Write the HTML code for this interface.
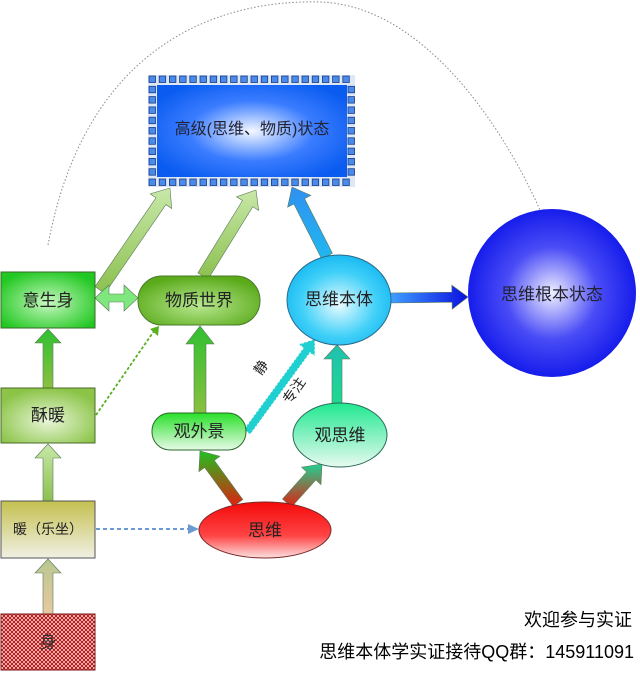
<!DOCTYPE html>
<html><head><meta charset="utf-8"><style>
html,body{margin:0;padding:0;background:#fff;}
svg{display:block;font-family:"Liberation Sans","Noto Sans CJK SC",sans-serif;}
</style></head><body>
<svg id="s" width="640" height="674" viewBox="0 0 640 674" xmlns="http://www.w3.org/2000/svg">
<defs>
<radialGradient id="gBlue" cx="50%" cy="50%" r="60%"><stop offset="0" stop-color="#f4f8ff"/><stop offset="0.55" stop-color="#3a7cff"/><stop offset="1" stop-color="#0a5cf0"/></radialGradient>
<radialGradient id="gBig" cx="50%" cy="50%" r="55%"><stop offset="0" stop-color="#f0f0ff"/><stop offset="0.5" stop-color="#4a4cf6"/><stop offset="1" stop-color="#0a12e8"/></radialGradient>
<radialGradient id="gCyan" cx="50%" cy="55%" r="60%"><stop offset="0" stop-color="#e8fbff"/><stop offset="0.6" stop-color="#40d0f8"/><stop offset="1" stop-color="#10b4f0"/></radialGradient>
<radialGradient id="gGreen1" cx="50%" cy="55%" r="60%"><stop offset="0" stop-color="#c8f8c0"/><stop offset="1" stop-color="#22c822"/></radialGradient>
<radialGradient id="gGreen2" cx="50%" cy="60%" r="60%"><stop offset="0" stop-color="#b8e890"/><stop offset="1" stop-color="#5aaa1a"/></radialGradient>
<radialGradient id="gSu" cx="50%" cy="60%" r="60%"><stop offset="0" stop-color="#e8f6d8"/><stop offset="1" stop-color="#8cc448"/></radialGradient>
<linearGradient id="gGw" x1="0" y1="0" x2="0" y2="1"><stop offset="0" stop-color="#28e028"/><stop offset="1" stop-color="#e8fae8"/></linearGradient>
<linearGradient id="gGsw" x1="0" y1="0" x2="0" y2="1"><stop offset="0" stop-color="#20e890"/><stop offset="1" stop-color="#e8faf0"/></linearGradient>
<linearGradient id="gNuan" x1="0" y1="0" x2="0" y2="1"><stop offset="0" stop-color="#c4c050"/><stop offset="1" stop-color="#f0f0e4"/></linearGradient>
<linearGradient id="gRed" x1="0" y1="0" x2="0" y2="1"><stop offset="0" stop-color="#f40a0a"/><stop offset="0.6" stop-color="#f44"/><stop offset="1" stop-color="#fce0e0"/></linearGradient>
<pattern id="hatch" width="4" height="4" patternUnits="userSpaceOnUse"><rect width="4" height="4" fill="#fff"/><path d="M0 0L4 4M4 0L0 4" stroke="#c01818" stroke-width="1.2"/></pattern>
<linearGradient id="aG1" x1="0" y1="1" x2="0" y2="0"><stop offset="0" stop-color="#8cc050"/><stop offset="1" stop-color="#c8e8a8"/></linearGradient>
<linearGradient id="aBlue" x1="0" y1="1" x2="0" y2="0"><stop offset="0" stop-color="#20b8f0"/><stop offset="1" stop-color="#3090f0"/></linearGradient>
<linearGradient id="aDB" x1="0" y1="0" x2="1" y2="0"><stop offset="0" stop-color="#40a0ff"/><stop offset="1" stop-color="#0a10e0"/></linearGradient>
<linearGradient id="aRG" x1="0" y1="1" x2="0" y2="0"><stop offset="0" stop-color="#e02010"/><stop offset="1" stop-color="#20c020"/></linearGradient>
<linearGradient id="aRG2" x1="0" y1="1" x2="0" y2="0"><stop offset="0" stop-color="#e02010"/><stop offset="1" stop-color="#20d090"/></linearGradient>
<linearGradient id="aGr" x1="0" y1="1" x2="0" y2="0"><stop offset="0" stop-color="#8ac040"/><stop offset="1" stop-color="#30c030"/></linearGradient>
<linearGradient id="aTeal" x1="0" y1="1" x2="0" y2="0"><stop offset="0" stop-color="#20d890"/><stop offset="1" stop-color="#20c0b0"/></linearGradient>
<linearGradient id="aTan" x1="0" y1="1" x2="0" y2="0"><stop offset="0" stop-color="#e8c8a0"/><stop offset="1" stop-color="#b8c890"/></linearGradient>
</defs>
<path d="M48 245 C 90 20, 250 0, 320 2 C 420 5, 500 120, 540 210" fill="none" stroke="#888" stroke-width="1" stroke-dasharray="1.5 2"/>
<g id="arrows"></g>
<rect x="148" y="75" width="207" height="112" fill="#dde8f4"/>
<g id="sq"></g>
<rect x="157" y="85" width="190" height="92" fill="url(#gBlue)"/>
<text x="252" y="134" font-size="16" text-anchor="middle" fill="#223">高级(思维、物质)状态</text>
<rect x="1" y="272" width="94" height="56" fill="url(#gGreen1)" stroke="#3a6a2a"/>
<text x="48" y="306" font-size="17" text-anchor="middle" fill="#222">意生身</text>
<rect x="138" y="276" width="122" height="49" rx="24" fill="url(#gGreen2)" stroke="#4a7a2a"/>
<text x="199" y="306" font-size="17" text-anchor="middle" fill="#222">物质世界</text>
<ellipse cx="339" cy="300" rx="52" ry="45" fill="url(#gCyan)" stroke="#2a6a8a"/>
<text x="339" y="305" font-size="17" text-anchor="middle" fill="#222">思维本体</text>
<circle cx="552" cy="293" r="84" fill="url(#gBig)"/>
<text x="552" y="300" font-size="17" text-anchor="middle" fill="#223">思维根本状态</text>
<rect x="1" y="388" width="94" height="55" fill="url(#gSu)" stroke="#4a6a2a"/>
<text x="48" y="421" font-size="17" text-anchor="middle" fill="#222">酥暖</text>
<rect x="152" y="413" width="94" height="37" rx="18" fill="url(#gGw)" stroke="#2a6a2a"/>
<text x="199" y="437" font-size="17" text-anchor="middle" fill="#222">观外景</text>
<ellipse cx="340" cy="435" rx="47" ry="32" fill="url(#gGsw)" stroke="#2a6a5a"/>
<text x="340" y="441" font-size="17" text-anchor="middle" fill="#222">观思维</text>
<rect x="1" y="501" width="94" height="57" fill="url(#gNuan)" stroke="#555"/>
<text x="48" y="534" font-size="14" text-anchor="middle" fill="#222">暖（乐坐）</text>
<ellipse cx="265" cy="530" rx="66" ry="28" fill="url(#gRed)" stroke="#7a2a2a"/>
<text x="265" y="536" font-size="17" text-anchor="middle" fill="#222">思维</text>
<rect x="1" y="614" width="94" height="56" fill="url(#hatch)" stroke="#7a1a1a"/>
<text x="48" y="648" font-size="17" text-anchor="middle" fill="#333">身</text>
<path d="M96 415 L154 331" stroke="#58b020" stroke-width="1.8" stroke-dasharray="3 2" fill="none"/>
<path d="M150 329 L159 326 L158 336 Z" fill="#58b020"/>
<path d="M96 529 L188 529" stroke="#6a9ad0" stroke-width="2" stroke-dasharray="4 3"/>
<path d="M188 524 L199 529 L188 534 Z" fill="#6a9ad0"/>
<text font-size="14" fill="#222" transform="translate(261,376) rotate(-55)">静</text>
<text font-size="14" fill="#222" transform="translate(290,405) rotate(-55)">专注</text>
<text x="632" y="626" font-size="18" text-anchor="end" fill="#000">欢迎参与实证</text>
<text x="634" y="658" font-size="18" text-anchor="end" fill="#000">思维本体学实证接待QQ群：145911091</text>
</svg>
<script>
var NS="http://www.w3.org/2000/svg";
var sq=document.getElementById("sq");
function box(x,y){var r=document.createElementNS(NS,"rect");r.setAttribute("x",x);r.setAttribute("y",y);r.setAttribute("width",6.5);r.setAttribute("height",6.5);r.setAttribute("fill","#4a8ae8");r.setAttribute("stroke","#1a3a8a");r.setAttribute("stroke-width","0.8");sq.appendChild(r);}
for(var i=0;i<20;i++){var x=149+i*10.2;box(x,76);box(x,179);}
for(var j=1;j<10;j++){var y=76+j*10.3;box(149,y);box(348,y);}
var ag=document.getElementById("arrows");
function arrow(x1,y1,x2,y2,w,hw,hl,fill,dbl,dash){
 var dx=x2-x1,dy=y2-y1,L=Math.hypot(dx,dy),ux=dx/L,uy=dy/L,px=-uy,py=ux;
 function P(a,b){return (x1+ux*a+px*b).toFixed(1)+","+(y1+uy*a+py*b).toFixed(1);}
 var pts;
 if(dbl){pts=[P(0,0),P(hl,hw),P(hl,w/2),P(L-hl,w/2),P(L-hl,hw),P(L,0),P(L-hl,-hw),P(L-hl,-w/2),P(hl,-w/2),P(hl,-hw)];}
 else pts=[P(0,w/2),P(L-hl,w/2),P(L-hl,hw),P(L,0),P(L-hl,-hw),P(L-hl,-w/2),P(0,-w/2)];
 var p=document.createElementNS(NS,"polygon");p.setAttribute("points",pts.join(" "));p.setAttribute("fill",fill);
 p.setAttribute("stroke",dash?"none":"#5a7a5a");p.setAttribute("stroke-width","0.6");
 if(dash){p.setAttribute("stroke","#fff");p.setAttribute("stroke-width","1");p.setAttribute("stroke-dasharray","2 2");}
 ag.appendChild(p);}
arrow(100,290,170,188,12,13,16,"url(#aG1)");
arrow(203,276,256,190,12,13,16,"url(#aG1)");
arrow(327,256,292,187,12,13,16,"url(#aBlue)");
arrow(390,298,468,297,10,12,16,"url(#aDB)");
arrow(95,298,138,298,8,13,14,"#7ee87e",true);
arrow(48,388,48,329,10,13,14,"url(#aGr)");
arrow(200,413,200,326,12,14,18,"url(#aGr)");
arrow(337,403,337,345,10,13,14,"url(#aTeal)");
arrow(247,432,315,339,8,10,14,"#20d0d0",false,true);
arrow(238,503,200,451,12,13,16,"url(#aRG)");
arrow(287,503,322,464,12,13,16,"url(#aRG2)");
arrow(48,501,48,444,10,13,14,"url(#aG1)");
arrow(48,614,48,559,10,13,14,"url(#aTan)");
</script>
</body></html>
